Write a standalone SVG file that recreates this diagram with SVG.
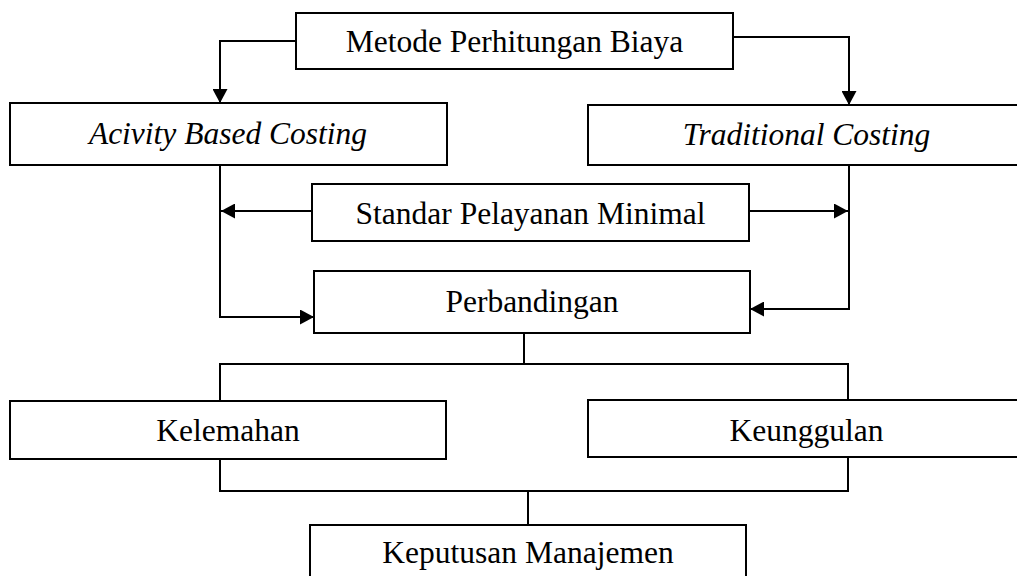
<svg xmlns="http://www.w3.org/2000/svg" width="1017" height="576" viewBox="0 0 1017 576">
<style>
.box{fill:#fff;stroke:#000;stroke-width:2}
.t{font-family:"Liberation Serif","Times New Roman",serif;font-size:31.5px;fill:#000;text-anchor:middle}
.i{font-style:italic}
.c{fill:none;stroke:#000;stroke-width:2}
</style>
<defs>
<marker id="ah" markerUnits="userSpaceOnUse" markerWidth="15" markerHeight="15" refX="14" refY="7.5" orient="auto">
<path d="M0,0 L14,7.5 L0,15 Z" fill="#000"/>
</marker>
</defs>
<rect width="1017" height="576" fill="#fff"/>
<g id="connectors">
<path class="c" d="M296,41 H220 V103" marker-end="url(#ah)"/>
<path class="c" d="M733,37 H849 V105" marker-end="url(#ah)"/>
<path class="c" d="M312,211 H221" marker-end="url(#ah)"/>
<path class="c" d="M749,211 H848" marker-end="url(#ah)"/>
<path class="c" d="M220,165 V317 H314" marker-end="url(#ah)"/>
<path class="c" d="M849,165 V309 H750" marker-end="url(#ah)"/>
<path class="c" d="M524,333 V364 M220,401 V364 H848 V400"/>
<path class="c" d="M220,459 V491 H848 V457 M528,491 V525"/>
</g>
<g id="metode">
<rect class="box" x="296" y="13" width="437" height="56"/>
<text class="t" x="514.5" y="52">Metode Perhitungan Biaya</text>
</g>
<g id="abc">
<rect class="box" x="10" y="103" width="437" height="62"/>
<text class="t i" x="228" y="144">Acivity Based Costing</text>
</g>
<g id="traditional">
<rect class="box" x="588" y="105" width="437" height="60"/>
<text class="t i" x="806.5" y="145">Traditional Costing</text>
</g>
<g id="standar">
<rect class="box" x="312" y="184" width="437" height="57"/>
<text class="t" x="530.5" y="224">Standar Pelayanan Minimal</text>
</g>
<g id="perbandingan">
<rect class="box" x="314" y="271" width="436" height="62"/>
<text class="t" x="532" y="312">Perbandingan</text>
</g>
<g id="kelemahan">
<rect class="box" x="10" y="401" width="436" height="58"/>
<text class="t" x="228" y="441">Kelemahan</text>
</g>
<g id="keunggulan">
<rect class="box" x="588" y="400" width="437" height="57"/>
<text class="t" x="806.5" y="441">Keunggulan</text>
</g>
<g id="keputusan">
<rect class="box" x="310" y="525" width="436" height="60"/>
<text class="t" x="528" y="563">Keputusan Manajemen</text>
</g>
</svg>
